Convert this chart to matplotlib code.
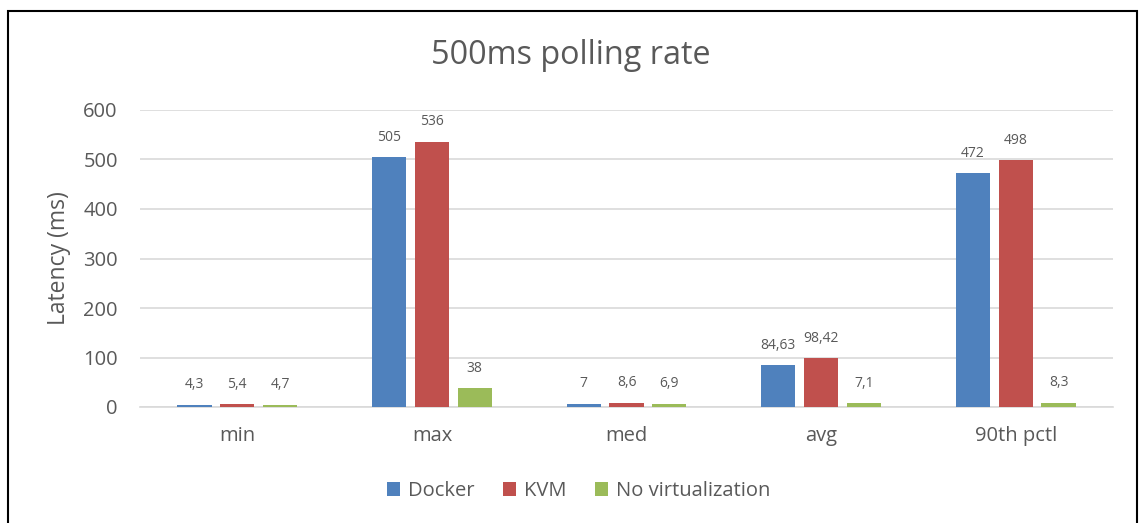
import numpy as np
import matplotlib.pyplot as plt
from matplotlib.patches import Rectangle

categories = ['min', 'max', 'med', 'avg', '90th pctl']
docker = [4.3, 505, 7, 84.63, 472]
kvm = [5.4, 536, 8.6, 98.42, 498]
novirt = [4.7, 38, 6.9, 7.1, 8.3]
docker_labels = ['4,3', '505', '7', '84,63', '472']
kvm_labels = ['5,4', '536', '8,6', '98,42', '498']
novirt_labels = ['4,7', '38', '6,9', '7,1', '8,3']

plt.rcParams['font.family'] = ['Open Sans', 'DejaVu Sans']
text_color = '#595959'

fig = plt.figure(figsize=(11.41, 5.23), dpi=100)
ax = fig.add_axes([140 / 1141, 116 / 523, 973 / 1141, 297 / 523])

# outer chart border
fig.patches.append(Rectangle((8 / 1141, -0.05), 1129 / 1141, 1.05 - 11 / 523,
                             transform=fig.transFigure, fill=False,
                             edgecolor='black', linewidth=1.5))

x = np.arange(len(categories))
w = 0.175
step = 0.22
series = [
    (docker, docker_labels, '#4F81BD', 'Docker'),
    (kvm, kvm_labels, '#C0504D', 'KVM'),
    (novirt, novirt_labels, '#9BBB59', 'No virtualization'),
]
for i, (vals, labels, color, name) in enumerate(series):
    pos = x + (i - 1) * step
    bars = ax.bar(pos, vals, width=w, color=color, label=name, zorder=3)
    for b, lab in zip(bars, labels):
        ax.annotate(lab, (b.get_x() + b.get_width() / 2, b.get_height()),
                    xytext=(0, 9), textcoords='offset points',
                    ha='center', va='bottom', fontsize=10, color=text_color)

ax.set_xlim(-0.5, len(categories) - 0.5)
ax.set_ylim(0, 600)
ax.set_yticks(range(0, 601, 100))
ax.set_xticks(x)
ax.set_xticklabels(categories)
ax.tick_params(axis='both', length=0, labelsize=14.5, colors=text_color)
ax.tick_params(axis='x', pad=14)
ax.tick_params(axis='y', pad=16)
ax.grid(axis='y', color='#D9D9D9', linewidth=1.2, zorder=0)
for s in ['top', 'right', 'left']:
    ax.spines[s].set_visible(False)
ax.spines['bottom'].set_color('#D9D9D9')
ax.spines['bottom'].set_linewidth(1.2)

ax.set_ylabel('Latency (ms)', fontsize=16.5, color=text_color, labelpad=9)
fig.text(0.5, 1 - 56 / 523, '500ms polling rate', ha='center', va='center',
         fontsize=23.3, color=text_color)

fig.legend(loc='center', bbox_to_anchor=(0.5 + 8 / 1141, 1 - 491 / 523), ncol=3,
           frameon=False, fontsize=14.5, labelcolor=text_color,
           handlelength=0.65, handleheight=0.65, handletextpad=0.4,
           columnspacing=1.4)

plt.savefig('out.png', dpi=100)
